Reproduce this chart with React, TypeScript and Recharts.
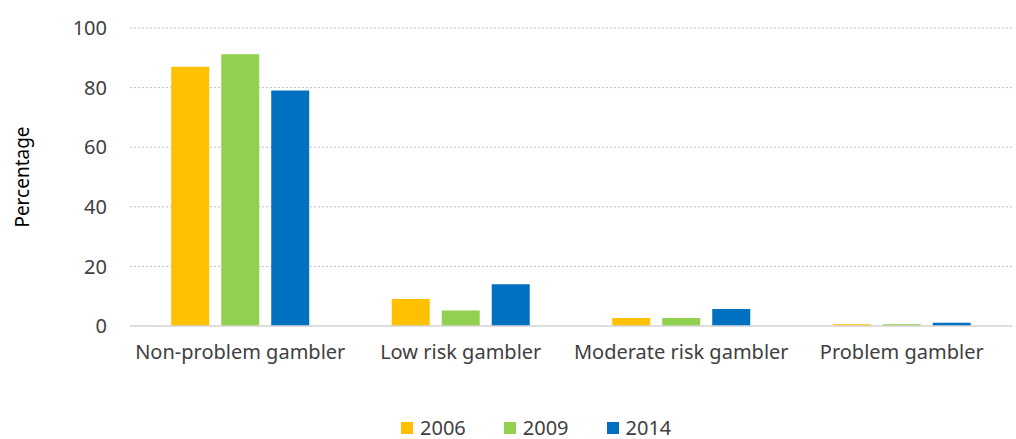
import React from "react";
import { BarChart, Bar, XAxis, YAxis, CartesianGrid, Legend } from "recharts";

const categories = ["Non-problem gambler", "Low risk gambler", "Moderate risk gambler", "Problem gambler"];
const seriesNames = ["2006", "2009", "2014"];
const seriesColors = ["#FFC000", "#92D050", "#0070C0"];
const y2006 = [87, 9.1, 2.7, 0.6];
const y2009 = [91.2, 5.2, 2.7, 0.6];
const y2014 = [79, 14, 5.7, 1.1];
const yTicks = [0, 20, 40, 60, 80, 100];

const data = categories.map((name, i) => ({
    name,
    "2006": y2006[i],
    "2009": y2009[i],
    "2014": y2014[i],
}));

const font = "'Noto Sans', sans-serif";
const textColor = "#404040";

function LegendBox() {
    return (
        <div style={{ display: "flex", paddingLeft: 401, fontFamily: font, fontSize: 20, lineHeight: "20px", color: textColor }}>
            {seriesNames.map((s, i) => (
                <div key={s} style={{ display: "flex", alignItems: "center", marginRight: 38 }}>
                    <span style={{ width: 12, height: 12, background: seriesColors[i], marginRight: 7, display: "inline-block" }} />
                    <span>{s}</span>
                </div>
            ))}
        </div>
    );
}

export default function App() {
    return (
        <div style={{ position: "absolute", left: 0, top: 0, width: 1016, height: 439, background: "#fff" }}>
            <BarChart
                width={1016}
                height={439}
                data={data}
                margin={{ top: 28, right: 4, left: 0, bottom: 0 }}
                barGap={12}
                barCategoryGap="18.7%"
                style={{ fontFamily: font }}
            >
                <CartesianGrid vertical={false} stroke="#bfbfbf" strokeDasharray="2 2" />
                <XAxis
                    dataKey="name"
                    height={93}
                    tickLine={false}
                    tickSize={0}
                    tickMargin={19}
                    axisLine={{ stroke: "#d9d9d9", strokeWidth: 1.5 }}
                    tick={{ fill: textColor, fontSize: 20, fontFamily: font }}
                    interval={0}
                />
                <YAxis
                    width={130}
                    domain={[0, 100]}
                    ticks={yTicks}
                    axisLine={false}
                    tickLine={false}
                    tickSize={0}
                    tickMargin={23}
                    tick={{ fill: textColor, fontSize: 20, fontFamily: font }}
                    label={{
                        value: "Percentage",
                        angle: -90,
                        position: "insideLeft",
                        offset: 22,
                        style: { textAnchor: "middle", fill: "#000", fontSize: 19, fontFamily: font },
                    }}
                />
                <Legend
                    verticalAlign="bottom"
                    wrapperStyle={{ bottom: 1, left: 0, width: 1016 }}
                    content={() => <LegendBox />}
                />
                <Bar dataKey="2006" fill={seriesColors[0]} isAnimationActive={false} />
                <Bar dataKey="2009" fill={seriesColors[1]} isAnimationActive={false} />
                <Bar dataKey="2014" fill={seriesColors[2]} isAnimationActive={false} />
            </BarChart>
        </div>
    );
}
